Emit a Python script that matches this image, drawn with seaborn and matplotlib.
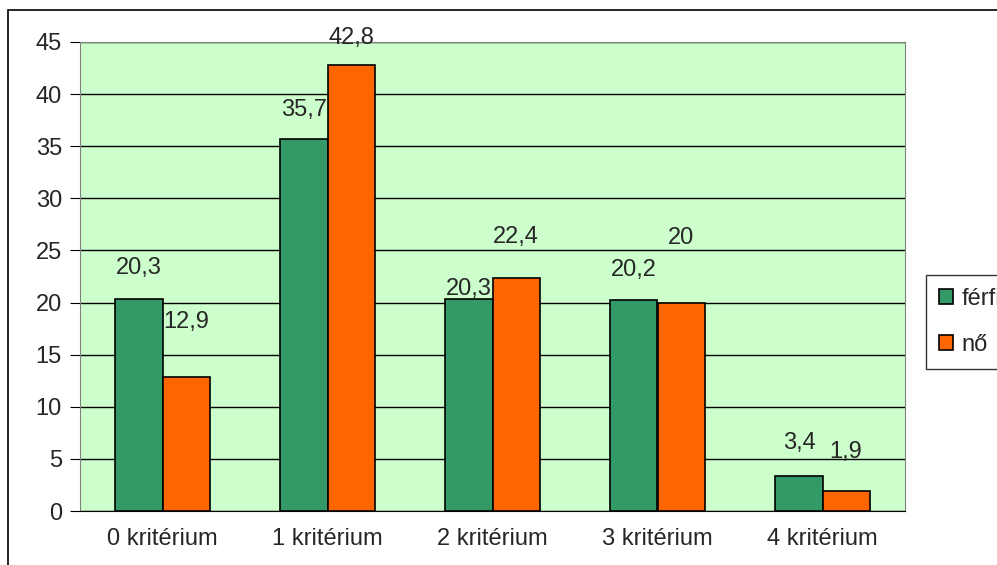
import pandas as pd
import numpy as np
import matplotlib.pyplot as plt
import seaborn as sns
from matplotlib.patches import Rectangle

# adatok
kategoriak = ["0 kritérium", "1 kritérium", "2 kritérium", "3 kritérium", "4 kritérium"]
ferfi = [20.3, 35.7, 20.3, 20.2, 3.4]
no = [12.9, 42.8, 22.4, 20.0, 1.9]
ferfi_cimke = ["20,3", "35,7", "20,3", "20,2", "3,4"]
no_cimke = ["12,9", "42,8", "22,4", "20", "1,9"]
# a címkék függőleges eltolása az oszlop tetejéhez képest (becsült)
ferfi_eltolas = [3.0, 2.8, 1.0, 2.9, 3.1]
no_eltolas = [5.2, 2.6, 3.9, 6.2, 3.8]

df = pd.DataFrame({
    "kategoria": kategoriak * 2,
    "ertek": ferfi + no,
    "nem": ["férfi"] * 5 + ["nő"] * 5,
})

sns.set_style("white")
plt.rcParams["font.family"] = ["Liberation Sans", "DejaVu Sans"]
plt.rcParams["font.size"] = 17

fig = plt.figure(figsize=(9.97, 5.65), dpi=100)
ax = fig.add_axes([80 / 997, 54 / 565, 825 / 997, 469 / 565])
ax.set_facecolor("#CCFFCC")

sns.barplot(data=df, x="kategoria", y="ertek", hue="nem",
            palette=["#339966", "#FF6600"], saturation=1, width=0.57,
            edgecolor="black", linewidth=1.2, ax=ax, zorder=3)

ax.set_ylim(0, 45)
ax.set_xlim(-0.5, 4.5)
ax.set_yticks(range(0, 46, 5))
ax.yaxis.grid(True, color="black", linewidth=1, zorder=0)
ax.set_axisbelow(True)
ax.set_xlabel("")
ax.set_ylabel("")

ax.set_xticks(np.arange(-0.5, 5, 1), minor=True)
ax.tick_params(axis="x", which="major", length=0, pad=12)
ax.tick_params(axis="x", which="minor", length=8, direction="out", color="black")
ax.tick_params(axis="y", length=7, direction="out", color="black", pad=6, left=True)

for s in ["top", "right", "left"]:
    ax.spines[s].set_color("#808080")
ax.spines["bottom"].set_color("black")

# címkék
bw = 0.57 / 2
for i in range(5):
    ax.text(i - bw / 2, ferfi[i] + ferfi_eltolas[i], ferfi_cimke[i],
            ha="center", va="center", fontsize=17, zorder=5)
    ax.text(i + bw / 2, no[i] + no_eltolas[i], no_cimke[i],
            ha="center", va="center", fontsize=17, zorder=5)

ax.legend(loc="upper left", bbox_to_anchor=(926 / 997, 1 - 275 / 565),
          bbox_transform=fig.transFigure, frameon=True, fancybox=False,
          edgecolor="black", fontsize=17, handlelength=0.6, handleheight=0.6,
          handletextpad=0.35, labelspacing=1.0, borderpad=0.55, borderaxespad=0)
ax.get_legend()._legend_box.align = "left"

# külső keret
fig.patches.append(Rectangle((8 / 997, -0.5), 2, 0.5 + 1 - 10 / 565,
                             transform=fig.transFigure, fill=False,
                             edgecolor="black", linewidth=1.2))

fig.savefig("out.png", dpi=100)
